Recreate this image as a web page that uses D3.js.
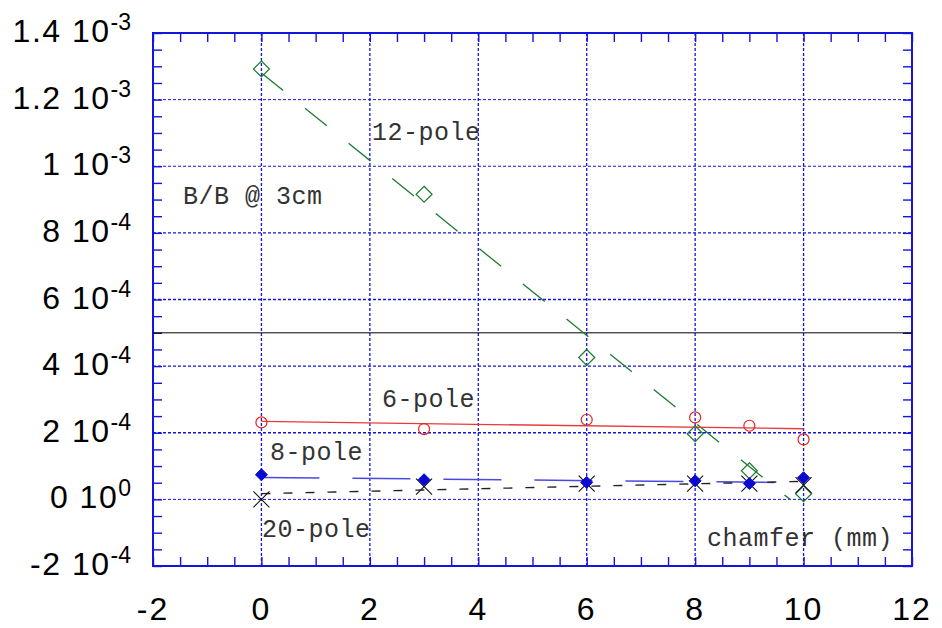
<!DOCTYPE html>
<html>
<head>
<meta charset="utf-8">
<script src="https://cdn.jsdelivr.net/npm/d3@7"></script>
<style>
  body { margin: 0; background: #fff; }
  svg { display: block; }
</style>
</head>
<body>
<div id="chart"></div>
<script>
// chamfer (mm) positions of the measured points
var chamfer = [0, 3, 6, 8, 9, 10];

// B/B @ 3cm for each harmonic
var pole12 = [1.292e-3, 9.16e-4, 4.26e-4, 1.97e-4, 0.86e-4, 0.17e-4];
var pole6  = [2.31e-4, 2.11e-4, 2.39e-4, 2.46e-4, 2.21e-4, 1.80e-4];
var pole8  = [0.74e-4, 0.59e-4, 0.51e-4, 0.556e-4, 0.475e-4, 0.65e-4];
var pole20 = [0, 0.38e-4, 0.475e-4, 0.475e-4, 0.47e-4, 0.43e-4];

// straight fit lines (end points)
var fit12X = [0, 9.75], fit12Y = [1.28e-3, 0];
var fit6X  = [0, 10],   fit6Y  = [2.34e-4, 2.12e-4];
var fit8X  = [0, 10],   fit8Y  = [0.66e-4, 0.50e-4];
var fit20X = [0, 10],   fit20Y = [0.17e-4, 0.54e-4];

// limit line
var limitY = 5e-4;

// tick labels
var xTicks = [-2, 0, 2, 4, 6, 8, 10, 12];
var yTicks = [-2e-4, 0, 2e-4, 4e-4, 6e-4, 8e-4, 1e-3, 1.2e-3, 1.4e-3];
var yMant  = ["-2", "0", "2", "4", "6", "8", "1", "1.2", "1.4"];
var yExp   = ["-4", "0", "-4", "-4", "-4", "-4", "-3", "-3", "-3"];

var W = 942, H = 628;
var margin = {top: 33, right: 30, bottom: 62, left: 153};
var width = 912 - margin.left, height = 566 - margin.top;

var svg = d3.select("#chart").append("svg")
    .attr("width", W).attr("height", H);
var g = svg.append("g")
    .attr("transform", "translate(" + margin.left + "," + margin.top + ")");

var x = d3.scaleLinear().domain([-2, 12]).range([0, width]);
var y = d3.scaleLinear().domain([-2e-4, 1.4e-3]).range([height, 0]);

var blue = "#1414dc";

// grid
var xGrid = [0, 2, 4, 6, 8, 10];
var yGrid = [0, 2e-4, 4e-4, 6e-4, 8e-4, 1e-3, 1.2e-3];
g.selectAll(".vgrid").data(xGrid).enter().append("line")
    .attr("x1", d => x(d)).attr("x2", d => x(d))
    .attr("y1", 0).attr("y2", height)
    .attr("stroke", blue).attr("stroke-width", 1.3)
    .attr("stroke-dasharray", "3,2");
g.selectAll(".hgrid").data(yGrid).enter().append("line")
    .attr("y1", d => y(d)).attr("y2", d => y(d))
    .attr("x1", 0).attr("x2", width)
    .attr("stroke", blue).attr("stroke-width", d => (d == 0 || d >= 1e-3) ? 1 : 1.3)
    .attr("stroke-dasharray", "3,2");

// inward minor ticks on all four sides
var xMinor = d3.range(-2, 12.001, 0.5);
var yMinor = d3.range(-2e-4, 1.4001e-3, 5e-5);
function tickStyle(sel) {
  sel.select(".domain").remove();
  sel.selectAll("line").attr("stroke", blue).attr("stroke-width", 1.4);
}
g.append("g").attr("transform", "translate(0," + height + ")")
    .call(d3.axisBottom(x).tickValues(xMinor).tickSize(-9).tickFormat("")).call(tickStyle);
g.append("g")
    .call(d3.axisTop(x).tickValues(xMinor).tickSize(-9).tickFormat("")).call(tickStyle);
g.append("g")
    .call(d3.axisLeft(y).tickValues(yMinor).tickSize(-9).tickFormat("")).call(tickStyle);
g.append("g").attr("transform", "translate(" + width + ",0)")
    .call(d3.axisRight(y).tickValues(yMinor).tickSize(-9).tickFormat("")).call(tickStyle);

// frame
g.append("rect").attr("width", width).attr("height", height)
    .attr("fill", "none").attr("stroke", blue).attr("stroke-width", 2);

// limit line
g.append("line")
    .attr("x1", 0).attr("x2", width)
    .attr("y1", y(limitY)).attr("y2", y(limitY))
    .attr("stroke", "#000").attr("stroke-width", 1);

// fit lines
var line = d3.line().x(d => x(d[0])).y(d => y(d[1]));
function fit(xs, ys, color, dash, w) {
  g.append("path")
    .datum(d3.zip(xs, ys))
    .attr("d", line)
    .attr("fill", "none")
    .attr("stroke", color)
    .attr("stroke-width", w)
    .attr("stroke-dasharray", dash);
}
fit(fit12X, fit12Y, "#1e7a30", "28,28", 1.3);
fit(fit6X, fit6Y, "#e83a3a", null, 1.3);
fit(fit8X, fit8Y, "#4a4ae0", "58,33", 1.5);
fit(fit20X, fit20Y, "#222", "9,13", 1.3);

// markers
var pts = function(vals) { return d3.zip(chamfer, vals); };

g.selectAll(".p12").data(pts(pole12)).enter().append("path")
    .attr("d", "M0,-8L8,0L0,8L-8,0Z")
    .attr("transform", d => "translate(" + x(d[0]) + "," + y(d[1]) + ")")
    .attr("fill", "none").attr("stroke", "#1e7a30").attr("stroke-width", 1.2);

g.selectAll(".p6").data(pts(pole6)).enter().append("circle")
    .attr("cx", d => x(d[0])).attr("cy", d => y(d[1])).attr("r", 5.5)
    .attr("fill", "none").attr("stroke", "#e82020").attr("stroke-width", 1.2);

g.selectAll(".p20").data(pts(pole20)).enter().append("path")
    .attr("d", "M-8,-8L8,8M-8,8L8,-8")
    .attr("transform", d => "translate(" + x(d[0]) + "," + y(d[1]) + ")")
    .attr("fill", "none").attr("stroke", "#111").attr("stroke-width", 1.1);

g.selectAll(".p8").data(pts(pole8)).enter().append("path")
    .attr("d", "M0,-6L6,0L0,6L-6,0Z")
    .attr("transform", d => "translate(" + x(d[0]) + "," + y(d[1]) + ")")
    .attr("fill", "#0a0ad0").attr("stroke", "#0a0ad0").attr("stroke-width", 1);

// x tick labels
svg.selectAll(".xl").data(xTicks).enter().append("text")
    .attr("x", d => margin.left + x(d))
    .attr("y", 620)
    .attr("text-anchor", "middle")
    .attr("font-family", "Liberation Sans, Arial, sans-serif")
    .attr("font-size", 32)
    .attr("letter-spacing", 2)
    .text(d => d);

// y tick labels with exponent
var yl = svg.selectAll(".yl").data(yTicks).enter().append("text")
    .attr("x", 131)
    .attr("y", d => margin.top + y(d) + 9)
    .attr("text-anchor", "end")
    .attr("font-family", "Liberation Sans, Arial, sans-serif")
    .attr("font-size", 32)
    .attr("letter-spacing", 1.5);
yl.append("tspan").text((d, i) => yMant[i] + " 10");
yl.append("tspan").attr("dy", -12).attr("font-size", 23).attr("letter-spacing", 0)
    .text((d, i) => yExp[i]);

// annotations
var notes = [
  {t: "12-pole", x: 372, y: 140},
  {t: "B/B @ 3cm", x: 183, y: 204},
  {t: "6-pole", x: 382, y: 407},
  {t: "8-pole", x: 270, y: 460},
  {t: "20-pole", x: 262, y: 537},
  {t: "chamfer (mm)", x: 707, y: 546}
];
svg.selectAll(".note").data(notes).enter().append("text")
    .attr("x", d => d.x).attr("y", d => d.y)
    .attr("font-family", "Liberation Mono, Courier New, monospace")
    .attr("font-size", 25)
    .attr("letter-spacing", 0.5)
    .attr("fill", "#333")
    .text(d => d.t);
</script>
</body>
</html>
